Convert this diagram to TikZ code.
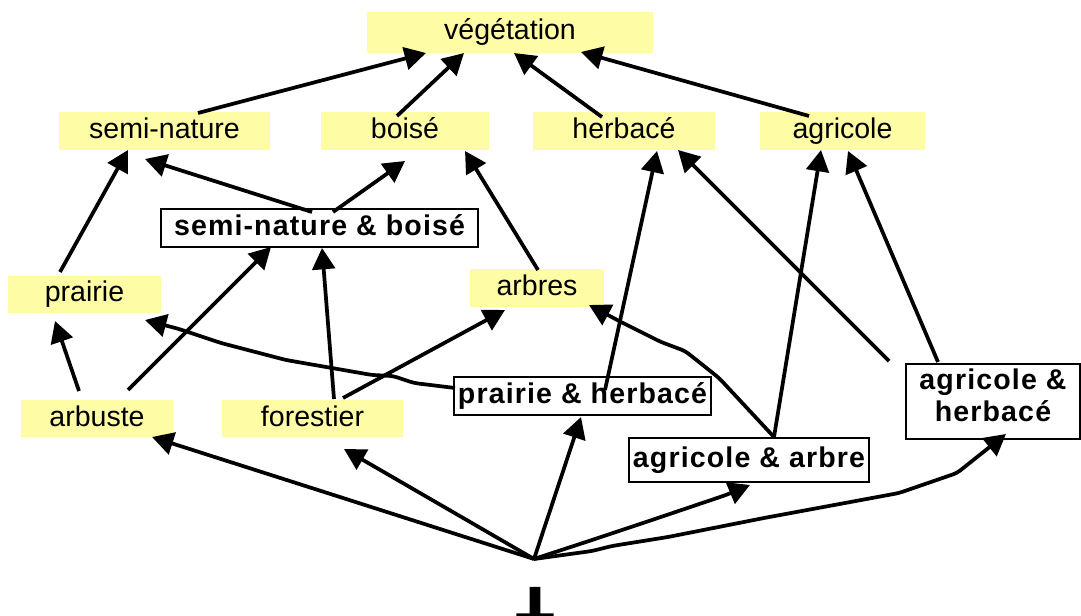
\documentclass[tikz,border=0pt]{standalone}
\usepackage{fontspec}
\setmainfont{Liberation Sans}
\newfontfamily\bsp{Liberation Sans}[LetterSpace=4]
\newfontfamily\botfont{DejaVu Sans}[FakeBold=20]
\usetikzlibrary{arrows.meta,calc}
\definecolor{yel}{RGB}{255,252,166}
\newcommand{\lblsize}{\fontsize{21.4pt}{24pt}\selectfont}
\tikzset{
  yelbox/.style={fill=yel, inner sep=0pt, text height=15pt, text depth=3.75pt, font=\lblsize},
  whitebox/.style={draw, line width=1.2pt, fill=white, inner sep=0pt, text height=15pt, text depth=3.75pt, font=\bsp\bfseries\lblsize},
  arr/.style={line width=2.8pt, -{Triangle[length=16pt,width=17pt]}},
  polyarr/.style={arr, rounded corners=3pt}
}
\begin{document}
\begin{tikzpicture}[x=0.75pt,y=-0.75pt]
\useasboundingbox (0,0) rectangle (1081,616);
% nodes
\node[yelbox, minimum width=214.5pt, minimum height=30.75pt] (veg) at (510,32.5) {végétation};
\node[yelbox, minimum width=158.25pt, minimum height=28.5pt] (semi) at (164.5,131) {semi-nature};
\node[yelbox, minimum width=126pt, minimum height=28.5pt] (boise) at (405,131) {boisé};
\node[yelbox, minimum width=136.5pt, minimum height=28.5pt] (herb) at (624,131) {herbacé};
\node[yelbox, minimum width=123.75pt, minimum height=28.5pt] (agri) at (842.5,131) {agricole};
\node[whitebox, minimum width=237.75pt, minimum height=28.5pt] (snb) at (319.5,228) {semi-nature \& boisé};
\node[yelbox, minimum width=114.75pt, minimum height=27.75pt] (prairie) at (84.5,294.5) {prairie};
\node[yelbox, minimum width=100.5pt, minimum height=28.5pt] (arbres) at (537,288) {arbres};
\node[yelbox, minimum width=114pt, minimum height=27.75pt] (arbuste) at (97,418.5) {arbuste};
\node[yelbox, minimum width=135.75pt, minimum height=27.75pt] (forest) at (312.5,418.5) {forestier};
\node[whitebox, minimum width=192.75pt, minimum height=28.5pt] (ph) at (582.5,396) {prairie \& herbacé};
\node[whitebox, minimum width=180pt, minimum height=33pt] (aa) at (749,460) {agricole \& arbre};
\node[whitebox, text height=, text depth=9pt, align=center, minimum width=130.5pt, minimum height=56.25pt] (ah) at (993,401.5) {agricole \&\\herbacé};
\coordinate (bot) at (534,559);
\node[font=\botfont\fontsize{31pt}{31pt}\selectfont, anchor=base, inner sep=0pt] (perp) at (535,620) {⊥};
% edges to végétation
\draw[arr] ($(semi)+(33.5,-18)$) -- ($(veg)+(-84,20.5)$);
\draw[arr] ($(boise)+(-8,-15)$) -- ($(veg)+(-46,20.5)$);
\draw[arr] ($(herb)+(-22,-14)$) -- ($(veg)+(4,20.5)$);
\draw[arr] ($(agri)+(-33.5,-15)$) -- ($(veg)+(71,19.5)$);
% second level
\draw[arr] ($(prairie)+(-24.5,-22.5)$) -- ($(semi)+(-36.5,19)$);
\draw[arr] ($(snb)+(-7.5,-16)$) -- ($(semi)+(-19.5,28)$);
\draw[arr] ($(snb)+(13.5,-16)$) -- ($(boise)+(0,30)$);
\draw[arr] ($(arbres)+(1,-18)$) -- ($(boise)+(60,20)$);
\draw[arr] ($(arbuste)+(31,-28.5)$) -- ($(snb)+(-48.5,19)$);
\draw[arr] ($(forest)+(21.5,-19.5)$) -- ($(snb)+(2.5,20)$);
\draw[arr] ($(ph)+(22.5,-6)$) -- ($(herb)+(33,20)$);
\draw[arr] ($(ah)+(-104,-40.5)$) -- ($(herb)+(54,19)$);
\draw[arr] ($(aa)+(25,-23)$) -- ($(agri)+(-21.5,19)$);
\draw[arr] ($(ah)+(-55,-39.5)$) -- ($(agri)+(5.5,20)$);
\draw[polyarr] ($(aa)+(25,-23)$) -- (719,378) -- (699,362) -- (685,351) -- (661,342) -- (621,322) -- ($(arbres)+(52,17)$);
\draw[polyarr] ($(ph)+(-127.5,-8)$) -- (414,383) -- (393,376) -- (372,375) -- (286,360) -- (221,343) -- (179,329) -- ($(prairie)+(60.5,25.5)$);
\draw[arr] ($(forest)+(30.5,-20.5)$) -- ($(arbres)+(-32,22)$);
\draw[arr] ($(arbuste)+(-18,-27.5)$) -- ($(prairie)+(-29.5,26.5)$);
% from bottom
\draw[arr] (bot) -- ($(arbuste)+(55,18.5)$);
\draw[arr] (bot) -- ($(forest)+(31.5,30.5)$);
\draw[arr] (bot) -- ($(ph)+(-1.5,21)$);
\draw[polyarr] (bot) -- (592,540) -- (643,523) -- (726,495) -- ($(aa)+(1,25)$);
\draw[polyarr] (bot) -- (592,551) -- (612,546) -- (668,537) -- (764,518) -- (899,493) -- (957,473) -- ($(ah)+(13,32.5)$);
\end{tikzpicture}
\end{document}
